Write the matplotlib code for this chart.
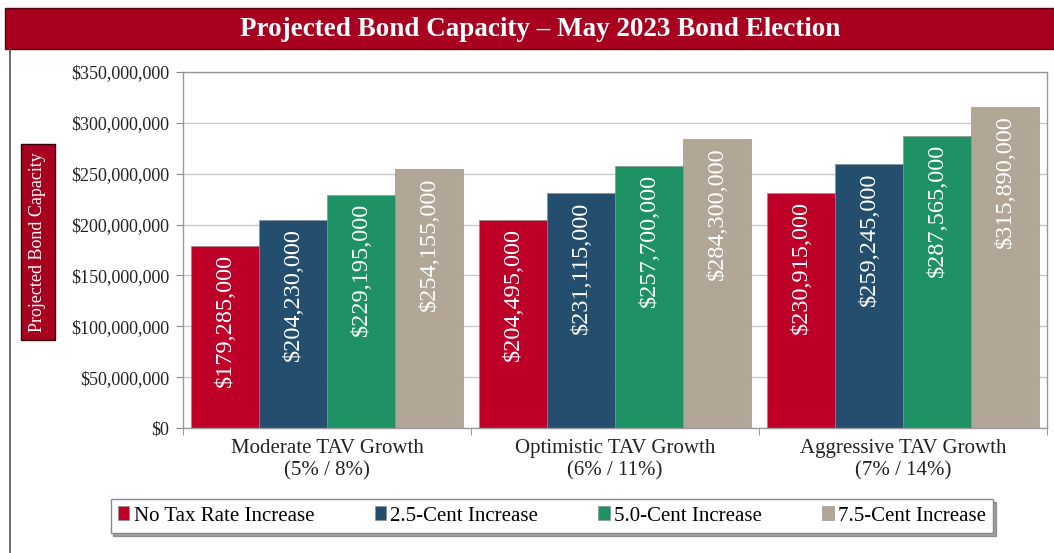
import numpy as np
import matplotlib.pyplot as plt
from matplotlib.patches import Rectangle

# data
categories = ['Moderate TAV Growth\n(5% / 8%)',
              'Optimistic TAV Growth\n(6% / 11%)',
              'Aggressive TAV Growth\n(7% / 14%)']
series_names = ['No Tax Rate Increase', '2.5-Cent Increase',
                '5.0-Cent Increase', '7.5-Cent Increase']
no_increase = [179285000, 204495000, 230915000]
cent_25 = [204230000, 231115000, 259245000]
cent_50 = [229195000, 257700000, 287565000]
cent_75 = [254155000, 284300000, 315890000]
yticks = np.arange(0, 350000001, 50000000)

colors = ['#BE0029', '#244E6E', '#1E9264', '#B2A697']
red = '#A8001F'

plt.rcParams['font.family'] = ['Liberation Serif', 'DejaVu Serif']

W, H = 1054, 553
fig = plt.figure(figsize=(W / 100, H / 100), dpi=100)

def px(x0, y0, x1, y1):
    # pixel box -> figure fraction rect
    return [x0 / W, 1 - y1 / H, (x1 - x0) / W, (y1 - y0) / H]

# title banner
fig.patches.append(Rectangle((5 / W, 1 - 49 / H), 1 - 5 / W, 41 / H, transform=fig.transFigure,
                             facecolor=red, edgecolor='#5a0010', lw=1.0))
fig.text(540 / W, 1 - 29 / H, 'Projected Bond Capacity \u2013 May 2023 Bond Election',
         color='white', fontsize=19.5, fontweight='bold', ha='center', va='center')
# outer frame left line
fig.lines.append(plt.Line2D([10 / W, 10 / W], [0, 1 - 49 / H], transform=fig.transFigure,
                            color='#555555', lw=1.2))

ax = fig.add_axes(px(183, 72, 1047, 428))

series = [no_increase, cent_25, cent_50, cent_75]
x = np.arange(len(categories))
bw = 0.236
for i, vals in enumerate(series):
    pos = x + (i - 1.5) * bw
    bars = ax.bar(pos, vals, width=bw, color=colors[i], label=series_names[i],
                  edgecolor='#888888', linewidth=0.4)
    for xp, v in zip(pos, vals):
        ax.annotate('${:,}'.format(v), (xp, v), xytext=(0, -6), textcoords='offset points',
                    rotation=90, ha='center', va='top', color='white', fontsize=17.5)

ax.set_xlim(-0.5, 2.5)
ax.set_ylim(0, 350000000)
ax.set_yticks(yticks)
ax.set_yticklabels(['${:,}'.format(t) for t in yticks], fontsize=13, color='#222222')
ax.set_xticks(x)
ax.set_xticklabels(categories, fontsize=15, color='#222222', linespacing=1.25)
ax.set_xticks([-0.5, 0.5, 1.5, 2.5], minor=True)
ax.tick_params(axis='x', which='major', length=0, pad=8)
ax.tick_params(axis='x', which='minor', length=5, color='#888888', direction='out')
ax.tick_params(axis='y', length=5, color='#888888', pad=5)
ax.grid(axis='y', color='#c8c8c8', lw=1.0)
ax.set_axisbelow(True)
for s in ax.spines.values():
    s.set_color('#999999')
    s.set_linewidth(1.0)

# y label box
fig.text(38 / W, 1 - 242 / H, 'Projected Bond Capacity', rotation=90, color='white',
         fontsize=13, ha='center', va='center',
         bbox=dict(boxstyle='square,pad=0.45', facecolor=red, edgecolor='#3a0008', lw=1.0))

leg = fig.legend(loc='center', bbox_to_anchor=(552 / W, 1 - 516 / H), ncol=4, fontsize=15,
                 frameon=True, fancybox=False, shadow=True, edgecolor='#888888',
                 handlelength=0.55, handleheight=0.65, handletextpad=0.2, columnspacing=2.9,
                 borderpad=0.35)
leg.get_frame().set_linewidth(1.0)

fig.savefig('out.png', dpi=100)
